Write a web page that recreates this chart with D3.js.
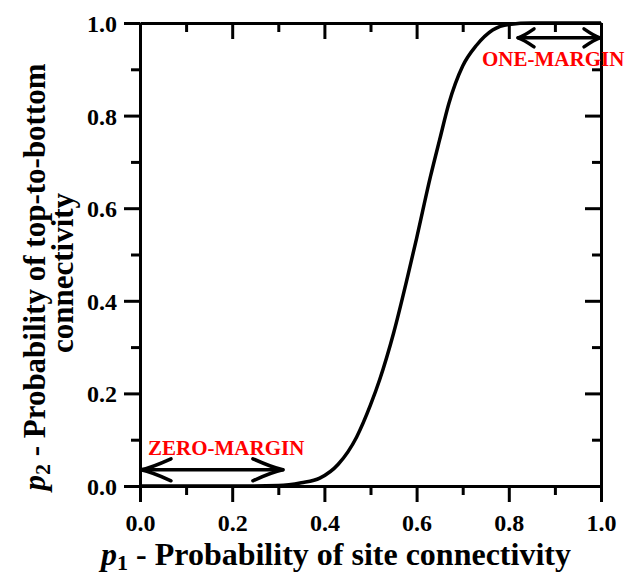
<!DOCTYPE html>
<html><head><meta charset="utf-8">
<script src="https://cdn.jsdelivr.net/npm/d3@7"></script>
<style>
html,body{margin:0;padding:0;background:#fff;}
svg{display:block;}
text{font-family:"Liberation Serif","Times New Roman",serif;font-weight:bold;}
</style></head>
<body>
<svg id="chart" width="628" height="574"></svg>
<script>
// ---- data ----
const p1 = [0, 0.1, 0.2, 0.3, 0.35, 0.39, 0.43, 0.47, 0.50, 0.52, 0.55, 0.58, 0.60, 0.63, 0.65, 0.67, 0.70, 0.73, 0.765, 0.80, 0.85, 0.9, 1.0];
const p2 = [0, 0, 0, 0.001, 0.007, 0.017, 0.047, 0.106, 0.175, 0.23, 0.33, 0.45, 0.535, 0.668, 0.748, 0.826, 0.907, 0.952, 0.985, 0.997, 1, 1, 1];
const majorTicks = [0, 0.2, 0.4, 0.6, 0.8, 1.0];
const minorTicks = [0.1, 0.3, 0.5, 0.7, 0.9];
const zeroMarginRange = [0, 0.31];
const oneMarginRange = [0.82, 1.0];
const zeroMarginLevel = 0.035;
const oneMarginLevel = 0.968;

// ---- layout ----
const L = 140, R = 601, T = 23, B = 486;
const svg = d3.select("#chart");
const x = d3.scaleLinear().domain([0, 1]).range([L, R]);
const y = d3.scaleLinear().domain([0, 1]).range([B, T]);
const fmt = d3.format(".1f");

function styleAxis(g, w) {
  g.selectAll("path.domain").attr("stroke", "#000").attr("stroke-width", w);
  g.selectAll(".tick line").attr("stroke", "#000").attr("stroke-width", w);
  g.selectAll(".tick text").attr("fill", "#000").attr("font-size", 24)
    .attr("font-family", "'Liberation Serif','Times New Roman',serif").attr("font-weight", "bold");
}

// minor ticks
[B, T].forEach(yy => {
  const g = svg.append("g").attr("transform", `translate(0,${yy})`)
    .call(d3.axisBottom(x).tickValues(minorTicks).tickSize(9).tickFormat("").tickSizeOuter(0));
  g.select("path.domain").remove();
  styleAxis(g, 3);
});
[L, R].forEach(xx => {
  const g = svg.append("g").attr("transform", `translate(${xx},0)`)
    .call(d3.axisLeft(y).tickValues(minorTicks).tickSize(9).tickFormat("").tickSizeOuter(0));
  g.select("path.domain").remove();
  styleAxis(g, 3);
});

// major axes
const gb = svg.append("g").attr("transform", `translate(0,${B})`)
  .call(d3.axisBottom(x).tickValues(majorTicks).tickSize(16).tickSizeOuter(0).tickFormat(fmt));
styleAxis(gb, 3);
gb.selectAll(".tick text").attr("dy", null).attr("y", 44.5);
const gt = svg.append("g").attr("transform", `translate(0,${T})`)
  .call(d3.axisBottom(x).tickValues(majorTicks).tickSize(16).tickSizeOuter(0).tickFormat(""));
styleAxis(gt, 3);
const gl = svg.append("g").attr("transform", `translate(${L},0)`)
  .call(d3.axisLeft(y).tickValues(majorTicks).tickSize(16).tickSizeOuter(0).tickFormat(fmt));
styleAxis(gl, 3);
gl.selectAll(".tick text").attr("dy", "0.35em").attr("x", -23);
const gr = svg.append("g").attr("transform", `translate(${R},0)`)
  .call(d3.axisLeft(y).tickValues(majorTicks).tickSize(16).tickSizeOuter(0).tickFormat(""));
styleAxis(gr, 3);

// curve
const pts = p1.map((v, i) => [v, p2[i]]);
svg.append("path").datum(pts)
  .attr("fill", "none").attr("stroke", "#000").attr("stroke-width", 3.5)
  .attr("stroke-linejoin", "round")
  .attr("d", d3.line().x(d => x(d[0])).y(d => y(d[1])).curve(d3.curveMonotoneX));

// double arrows
function dblArrow(x0, x1, yy, len, half) {
  const g = svg.append("g").attr("stroke", "#000").attr("fill", "none")
    .attr("stroke-width", 3.5).attr("stroke-linecap", "round").attr("stroke-linejoin", "round");
  g.append("line").attr("x1", x0).attr("x2", x1).attr("y1", yy).attr("y2", yy);
  g.append("path").attr("d", `M${x0 + len},${yy - half} Q${x0 + len * 0.35},${yy - half * 0.2} ${x0},${yy} Q${x0 + len * 0.35},${yy + half * 0.2} ${x0 + len},${yy + half}`);
  g.append("path").attr("d", `M${x1 - len},${yy - half} Q${x1 - len * 0.35},${yy - half * 0.2} ${x1},${yy} Q${x1 - len * 0.35},${yy + half * 0.2} ${x1 - len},${yy + half}`);
}
dblArrow(x(zeroMarginRange[0]) + 1, x(zeroMarginRange[1]), y(zeroMarginLevel), 30, 11);
dblArrow(x(oneMarginRange[0]), x(oneMarginRange[1]) - 1, y(oneMarginLevel), 16, 9);

svg.append("text").attr("x", 148).attr("y", 455).attr("fill", "#ff0000").attr("font-size", 21)
  .text("ZERO-MARGIN");
svg.append("text").attr("x", 482).attr("y", 66).attr("fill", "#ff0000").attr("font-size", 21)
  .text("ONE-MARGIN");

// x title
const xt = svg.append("text").attr("x", 336).attr("y", 565).attr("text-anchor", "middle")
  .attr("font-size", 32).attr("fill", "#000");
xt.append("tspan").attr("font-style", "italic").text("p");
xt.append("tspan").attr("font-size", 22).attr("dy", 5).text("1");
xt.append("tspan").attr("dy", -5).text(" - Probability of site connectivity");

// y title
const yg = svg.append("g").attr("transform", "translate(0,277) rotate(-90)");
const yt1 = yg.append("text").attr("x", 0).attr("y", 45).attr("text-anchor", "middle")
  .attr("font-size", 31).attr("fill", "#000");
yt1.append("tspan").attr("font-style", "italic").text("p");
yt1.append("tspan").attr("font-size", 22).attr("dy", 5).text("2");
yt1.append("tspan").attr("dy", -5).text(" - Probability of top-to-bottom");
yg.append("text").attr("x", 4).attr("y", 73).attr("text-anchor", "middle")
  .attr("font-size", 31).attr("fill", "#000").text("connectivity");
</script>
</body></html>
